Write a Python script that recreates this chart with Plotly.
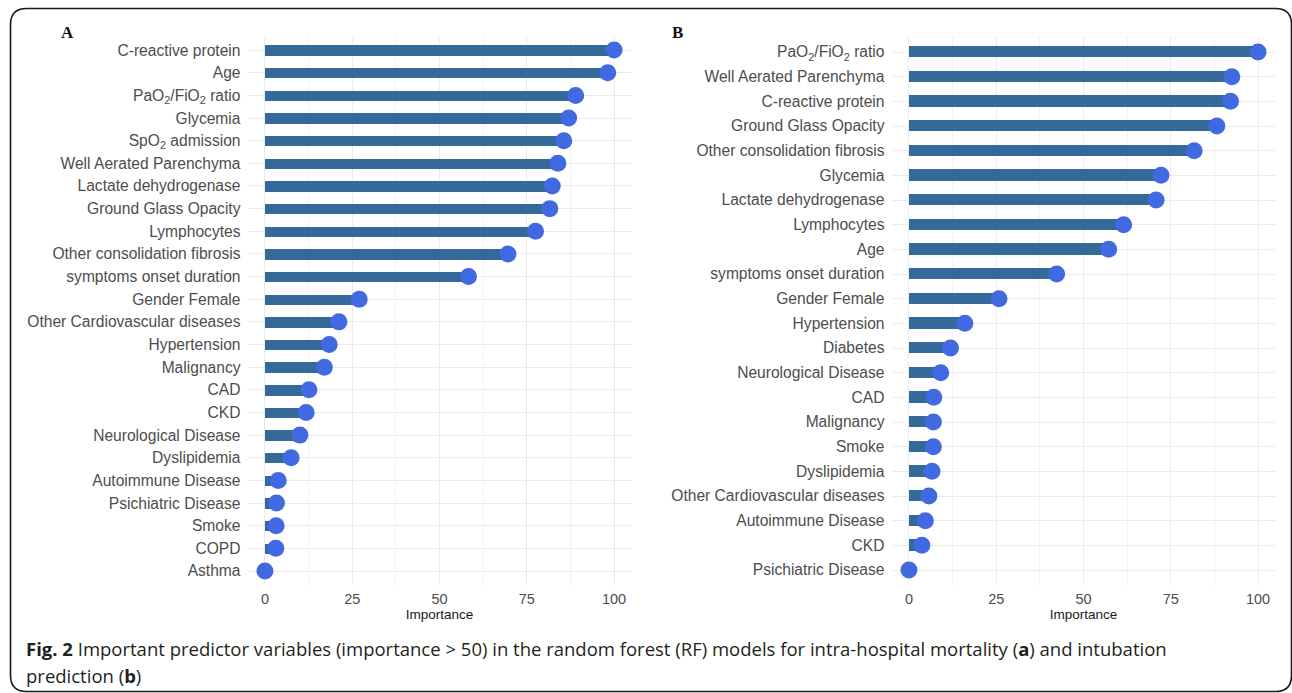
import re
import plotly.graph_objects as go

W, H = 1292, 693

# Variable importance, intra-hospital mortality model (panel A), top to bottom
mort_vars = [
    "C-reactive protein", "Age", "PaO<sub>2</sub>/FiO<sub>2</sub> ratio", "Glycemia",
    "SpO<sub>2</sub> admission", "Well Aerated Parenchyma", "Lactate dehydrogenase",
    "Ground Glass Opacity", "Lymphocytes", "Other consolidation fibrosis",
    "symptoms onset duration", "Gender Female", "Other Cardiovascular diseases",
    "Hypertension", "Malignancy", "CAD", "CKD", "Neurological Disease", "Dyslipidemia",
    "Autoimmune Disease", "Psichiatric Disease", "Smoke", "COPD", "Asthma",
]
mort_imp = [100.0, 98.2, 89.0, 87.0, 85.6, 83.9, 82.3, 81.6, 77.5, 69.6, 58.3, 27.0,
            21.2, 18.4, 17.0, 12.6, 11.8, 10.0, 7.5, 3.8, 3.3, 3.2, 3.1, 0.0]

# Variable importance, intubation model (panel B), top to bottom
intub_vars = [
    "PaO<sub>2</sub>/FiO<sub>2</sub> ratio", "Well Aerated Parenchyma", "C-reactive protein",
    "Ground Glass Opacity", "Other consolidation fibrosis", "Glycemia",
    "Lactate dehydrogenase", "Lymphocytes", "Age", "symptoms onset duration",
    "Gender Female", "Hypertension", "Diabetes", "Neurological Disease", "CAD",
    "Malignancy", "Smoke", "Dyslipidemia", "Other Cardiovascular diseases",
    "Autoimmune Disease", "CKD", "Psichiatric Disease",
]
intub_imp = [100.0, 92.5, 92.1, 88.2, 81.7, 72.2, 70.8, 61.5, 57.2, 42.3, 25.8, 16.0,
             11.9, 9.1, 7.1, 7.0, 7.0, 6.6, 5.7, 4.7, 3.7, 0.0]

x_ticks = [0, 25, 50, 75, 100]

BAR = "#346999"
DOT = "#4169E1"
GRID = "#EBEBEB"
TXT = "#4D4D4D"
SANS = "Liberation Sans, Arial, sans-serif"


def px_x(v):
    return v / W


def px_y(v):
    return 1 - v / H


fig = go.Figure()

panels = [
    # (names, values, axis suffix, x-domain px, y-domain px)
    (mort_vars, mort_imp, "", (247.5, 631.5), (36.5, 584.6)),
    (intub_vars, intub_imp, "2", (891.5, 1275.5), (37.2, 584.8)),
]

for names, vals, sfx, (x0, x1), (ytop, ybot) in panels:
    xa, ya = "x" + sfx, "y" + sfx
    fig.add_trace(go.Bar(
        x=vals, y=names, orientation="h", width=0.46,
        marker=dict(color=BAR, line=dict(width=0)),
        xaxis=xa, yaxis=ya, showlegend=False, hoverinfo="skip",
    ))
    fig.add_trace(go.Scatter(
        x=vals, y=names, mode="markers",
        marker=dict(color=DOT, size=17, line=dict(width=0)),
        xaxis=xa, yaxis=ya, showlegend=False, hoverinfo="skip",
    ))
    n = len(names)
    fig.layout["xaxis" + sfx] = dict(
        domain=[px_x(x0), px_x(x1)], anchor=ya, range=[-5, 105],
        tickvals=x_ticks, ticktext=[str(t) for t in x_ticks],
        showgrid=True, gridcolor=GRID, gridwidth=1.3, zeroline=False,
        showline=False, ticks="", ticklabelstandoff=4,
        tickfont=dict(family=SANS, size=14.5, color=TXT),
        minor=dict(tickvals=[12.5, 37.5, 62.5, 87.5], showgrid=True,
                   gridcolor="#F2F2F2", gridwidth=0.8),
        title=dict(text="Importance", standoff=2,
                   font=dict(family=SANS, size=13.5, color="#1A1A1A")),
        fixedrange=True,
    )
    fig.layout["yaxis" + sfx] = dict(
        domain=[px_y(ybot), px_y(ytop)], anchor=xa,
        type="category", categoryorder="array", categoryarray=names[::-1],
        range=[-0.6, n - 0.4],
        showgrid=True, gridcolor=GRID, gridwidth=1.3, zeroline=False,
        showline=False, ticks="", ticklabelstandoff=6,
        tickfont=dict(family=SANS, size=15.6, color=TXT),
        fixedrange=True,
    )

# Panel letters
for letter, lx in (("A", 67), ("B", 677)):
    fig.add_annotation(
        text="<b>%s</b>" % letter, x=px_x(lx), y=px_y(32), xref="paper", yref="paper",
        xanchor="center", yanchor="middle", showarrow=False,
        font=dict(family="Liberation Serif, Times New Roman, serif", size=17, color="#111111"),
    )

# Figure caption
cap_font = dict(family="Open Sans, sans-serif", size=18.5, color="#231F20")
fig.add_annotation(
    text="<b>Fig. 2</b> Important predictor variables (importance &gt; 50) in the random forest (RF) "
         "models for intra-hospital mortality (<b>a</b>) and intubation",
    x=px_x(24), y=px_y(648), xref="paper", yref="paper",
    xanchor="left", yanchor="middle", showarrow=False, font=cap_font,
)
fig.add_annotation(
    text="prediction (<b>b</b>)",
    x=px_x(24), y=px_y(675), xref="paper", yref="paper",
    xanchor="left", yanchor="middle", showarrow=False, font=cap_font,
)

# Rounded frame around the whole figure, defined in pixels then mapped to paper space
x0, y0, x1, y1, r = 10.5, 8.5, 1291.5, 691.5, 16
path = (
    f"M {x0 + r},{y0} L {x1 - r},{y0} Q {x1},{y0} {x1},{y0 + r} "
    f"L {x1},{y1 - r} Q {x1},{y1} {x1 - r},{y1} "
    f"L {x0 + r},{y1} Q {x0},{y1} {x0},{y1 - r} "
    f"L {x0},{y0 + r} Q {x0},{y0} {x0 + r},{y0} Z"
)


def to_paper(m):
    a, b = float(m.group(1)), float(m.group(2))
    return f"{a / W:.6f},{1 - b / H:.6f}"


paper_path = re.sub(r"(-?[\d.]+),(-?[\d.]+)", to_paper, path)
fig.add_shape(type="path", path=paper_path, xref="paper", yref="paper",
              line=dict(color="#1A1A1A", width=1.6), fillcolor="rgba(0,0,0,0)", layer="below")

fig.update_layout(
    width=W, height=H, margin=dict(l=0, r=0, t=0, b=0),
    paper_bgcolor="white", plot_bgcolor="white",
    bargap=0, showlegend=False,
)

fig.write_html("out.html", config={"displayModeBar": False})
